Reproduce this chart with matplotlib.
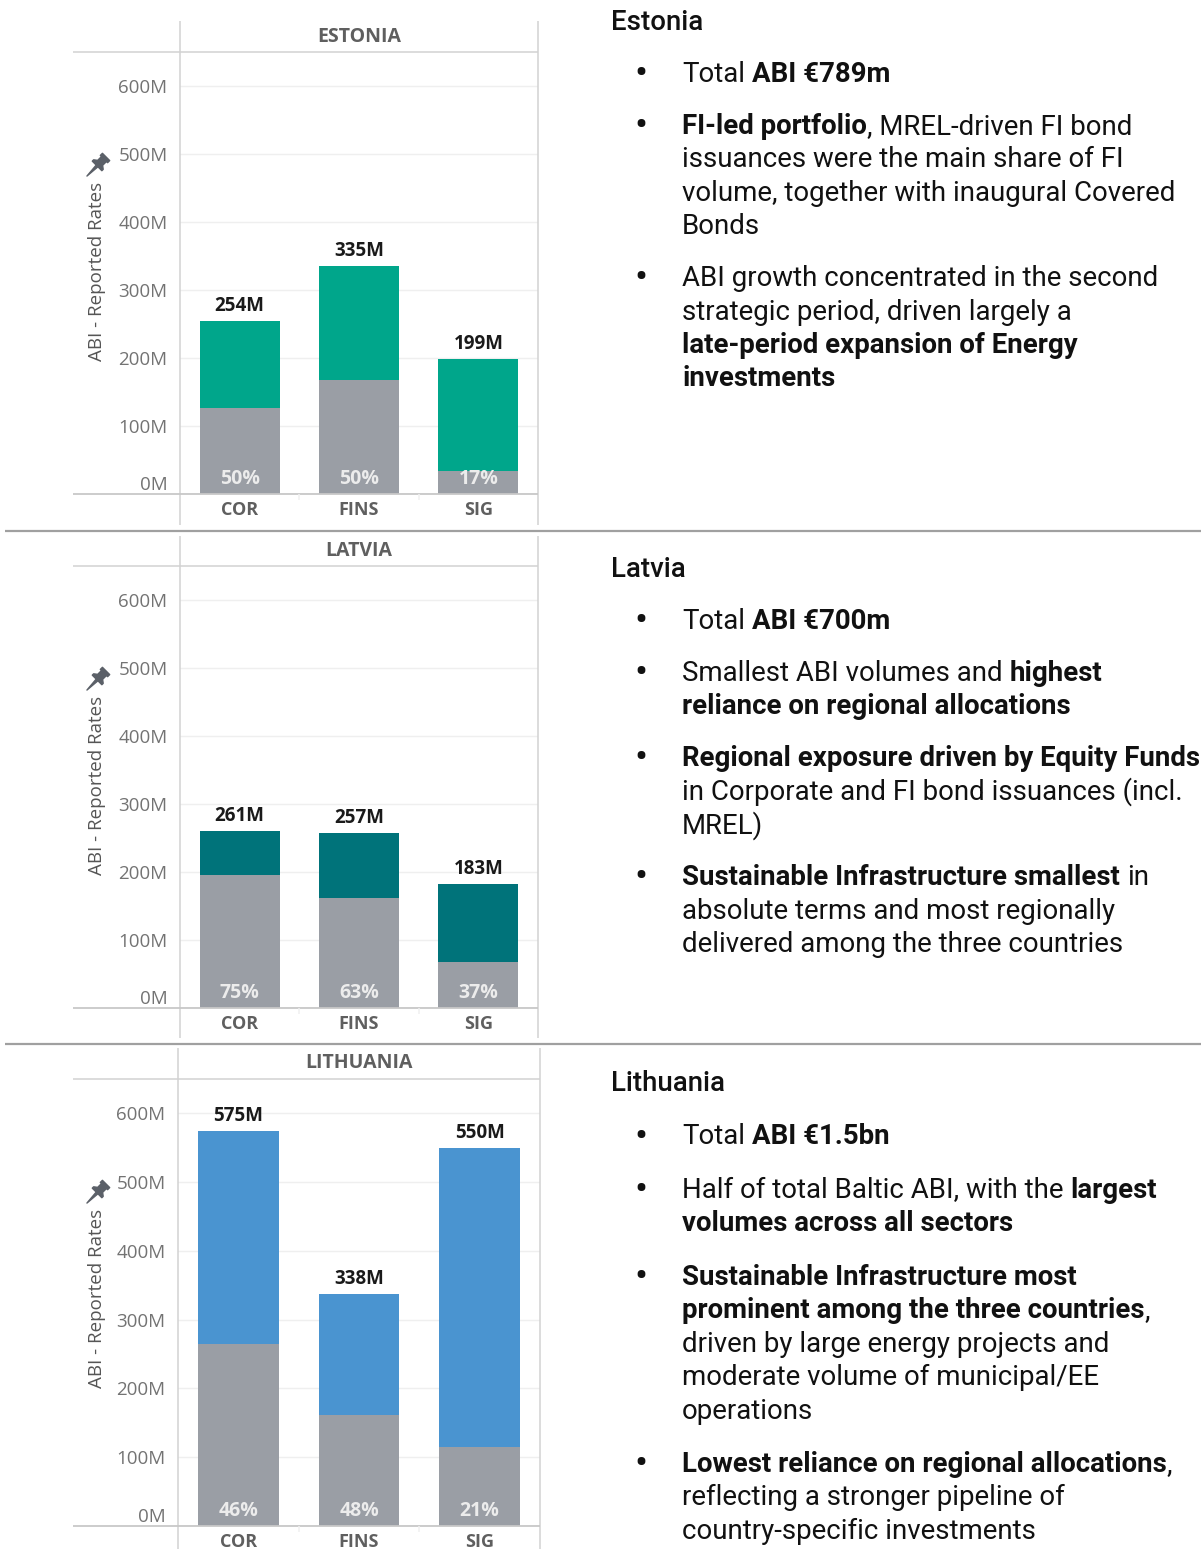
import matplotlib
matplotlib.use("Agg")
import matplotlib.pyplot as plt
import numpy as np
from matplotlib.lines import Line2D
from matplotlib.path import Path

W, H = 1201, 1549

# ---- chart data (EUR millions) ----
categories = ["COR", "FINS", "SIG"]
countries = ["ESTONIA", "LATVIA", "LITHUANIA"]

estonia_total = [254, 335, 199]
estonia_regional = [127, 167, 34]
estonia_share = [50, 50, 17]

latvia_total = [261, 257, 183]
latvia_regional = [196, 162, 68]
latvia_share = [75, 63, 37]

lithuania_total = [575, 338, 550]
lithuania_regional = [265, 162, 115]
lithuania_share = [46, 48, 21]

y_ticks = [0, 100, 200, 300, 400, 500, 600]

# ---- commentary text: lines of (text, bold) ----
estonia_title = "Estonia"
estonia_bullets = [
    [[("Total ", 0), ("ABI €789m", 1)]],
    [[("FI-led portfolio", 1), (", MREL-driven FI bond", 0)],
     [("issuances were the main share of FI", 0)],
     [("volume, together with inaugural Covered", 0)],
     [("Bonds", 0)]],
    [[("ABI growth concentrated in the second", 0)],
     [("strategic period, driven largely a", 0)],
     [("late-period expansion of Energy", 1)],
     [("investments", 1)]],
]
latvia_title = "Latvia"
latvia_bullets = [
    [[("Total ", 0), ("ABI €700m", 1)]],
    [[("Smallest ABI volumes and ", 0), ("highest", 1)],
     [("reliance on regional allocations", 1)]],
    [[("Regional exposure driven by Equity Funds", 1)],
     [("in Corporate and FI bond issuances (incl.", 0)],
     [("MREL)", 0)]],
    [[("Sustainable Infrastructure smallest", 1), (" in", 0)],
     [("absolute terms and most regionally", 0)],
     [("delivered among the three countries", 0)]],
]
lithuania_title = "Lithuania"
lithuania_bullets = [
    [[("Total ", 0), ("ABI €1.5bn", 1)]],
    [[("Half of total Baltic ABI, with the ", 0), ("largest", 1)],
     [("volumes across all sectors", 1)]],
    [[("Sustainable Infrastructure most", 1)],
     [("prominent among the three countries", 1), (",", 0)],
     [("driven by large energy projects and", 0)],
     [("moderate volume of municipal/EE", 0)],
     [("operations", 0)]],
    [[("Lowest reliance on regional allocations", 1), (",", 0)],
     [("reflecting a stronger pipeline of", 0)],
     [("country-specific investments", 0)]],
]

totals = [estonia_total, latvia_total, lithuania_total]
regional = [estonia_regional, latvia_regional, lithuania_regional]
shares = [estonia_share, latvia_share, lithuania_share]
titles = [estonia_title, latvia_title, lithuania_title]
bullets = [estonia_bullets, latvia_bullets, lithuania_bullets]

colors = ["#00a68b", "#00737a", "#4a94d0"]
gray = "#9a9ea5"
frame = "#d2d2d2"
CHART_FONT = "Open Sans"
BODY_FONT = "Roboto"
BODY = 19.9

# panel geometry in pixels
panels = [
    dict(left=180, right=538, top=21, sep=52, base=494, bottom=525, text_y=30, gap=52),
    dict(left=180, right=538, top=536, sep=566, base=1008, bottom=1038, text_y=577, gap=52),
    dict(left=178, right=540, top=1048, sep=1079, base=1526, bottom=1549, text_y=1091, gap=53.5),
]

fig = plt.figure(figsize=(W / 100, H / 100), dpi=100)
fig.patch.set_facecolor("white")
renderer = fig.canvas.get_renderer()


def fx(x):
    return x / W


def fy(y):
    return 1 - y / H


def seg(x0, y0, x1, y1, color=frame, lw=1.1):
    fig.add_artist(Line2D([fx(x0), fx(x1)], [fy(y0), fy(y1)], color=color, lw=lw,
                          transform=fig.transFigure, solid_capstyle="butt"))


# pushpin marker, needle pointing down-left
pin = np.array([(-0.38, 1.0), (0.38, 1.0), (0.38, 0.78), (0.26, 0.78), (0.26, 0.38), (0.5, 0.2),
                (0.5, 0.06), (0.09, 0.06), (0.0, -1.0), (-0.09, 0.06), (-0.5, 0.06),
                (-0.5, 0.2), (-0.26, 0.38), (-0.26, 0.78), (-0.38, 0.78), (-0.38, 1.0)])
ang = np.deg2rad(-45)
rot = np.array([[np.cos(ang), -np.sin(ang)], [np.sin(ang), np.cos(ang)]])
pin_path = Path(pin @ rot.T, closed=True)

# panel separators
seg(5, 531, 1201, 531, color="#a0a0a0", lw=1.6)
seg(5, 1044, 1201, 1044, color="#a0a0a0", lw=1.6)

for k in range(3):
    p = panels[k]
    ax = fig.add_axes([fx(p["left"]), fy(p["base"]), (p["right"] - p["left"]) / W,
                       (p["base"] - p["sep"]) / H])
    x = np.arange(len(categories))
    tot = np.array(totals[k])
    reg = np.array(regional[k])
    ax.bar(x, reg, width=0.67, color=gray, zorder=2)
    ax.bar(x, tot - reg, bottom=reg, width=0.67, color=colors[k], zorder=2)
    ax.set_xlim(-0.5, 2.5)
    ax.set_ylim(0, 650)
    for s in ax.spines.values():
        s.set_visible(False)
    ax.set_yticks(y_ticks)
    ax.set_yticklabels([f"{v}M" for v in y_ticks], fontsize=13.5, color="#737373",
                       family=CHART_FONT)
    ax.get_yticklabels()[0].set_va("bottom")
    ax.tick_params(axis="y", length=0, pad=9.0)
    ax.set_xticks(x)
    ax.set_xticklabels(categories, fontsize=13, color="#5f5f5f", family=CHART_FONT,
                       fontweight="bold")
    ax.tick_params(axis="x", length=0, pad=5)
    ax.yaxis.grid(True, color="#efefef", lw=1)
    ax.set_axisbelow(True)
    for i in range(len(categories)):
        ax.annotate(f"{tot[i]}M", (x[i], tot[i]), xytext=(0, 3.5), textcoords="offset points",
                    ha="center", va="bottom", fontsize=13.5, fontweight="bold",
                    color="#1a1a1a", family=CHART_FONT)
        ax.annotate(f"{shares[k][i]}%", (x[i], 0), xytext=(0, 10.5), textcoords="offset points",
                    ha="center", va="center", fontsize=14, color="#ececec", family=CHART_FONT,
                    fontweight="bold")

    # frame lines
    seg(p["left"], p["top"], p["left"], p["bottom"])
    seg(p["right"], p["top"], p["right"], p["bottom"])
    seg(73, p["sep"], p["right"], p["sep"])
    seg(73, p["base"], p["right"], p["base"], color="#c8c8c8", lw=1.3)
    step = (p["right"] - p["left"]) / 3
    for j in (1, 2):
        seg(p["left"] + j * step, p["base"], p["left"] + j * step, p["base"] + 6, color="#f0f0f0")

    fig.text(fx((p["left"] + p["right"]) / 2), fy((p["top"] + p["sep"]) / 2), countries[k],
             ha="center", va="center", fontsize=14, fontweight="bold", color="#5f5f5f",
             family=CHART_FONT)
    fig.text(fx(97), fy(p["sep"] + 219), "ABI - Reported Rates", rotation=90, ha="center",
             va="center", fontsize=13.5, color="#555555", family=CHART_FONT)
    fig.add_artist(Line2D([fx(96)], [fy(p["sep"] + 114)], marker=pin_path, markersize=19,
                          color="#5b6068", lw=0, transform=fig.transFigure))


# ---- rich text on the right ----
_cache = {}


def width(s, wt):
    key = (s, wt)
    if key not in _cache:
        t = fig.text(0, 0, s, fontsize=BODY, fontweight=wt, family=BODY_FONT)
        _cache[key] = t.get_window_extent(renderer).width
        t.remove()
    return _cache[key]


def advance(s, wt):
    return width("a" + s + "|", wt) - width("a|", wt)


def rich_line(x, y, parts):
    for s, b in parts:
        wt = "bold" if b else "normal"
        core = s.strip()
        sp = advance(" ", wt)
        x += (len(s) - len(s.lstrip())) * sp
        fig.text(fx(x), fy(y), core, fontsize=BODY, fontweight=wt, family=BODY_FONT,
                 color="#111111", ha="left", va="baseline")
        x += advance(core, wt)
        x += (len(s) - len(s.rstrip())) * sp


line_h = 33.4
for k in range(3):
    p = panels[k]
    y = p["text_y"]
    fig.text(fx(611), fy(y), titles[k], fontsize=BODY, fontweight="medium", family=BODY_FONT,
             color="#111111", ha="left", va="baseline")
    for b in bullets[k]:
        y += p["gap"]
        fig.text(fx(641), fy(y + 3), "•", fontsize=28, family=BODY_FONT, color="#111111",
                 ha="center", va="baseline")
        for n, line in enumerate(b):
            if n:
                y += line_h
            rich_line(682, y, line)

fig.savefig("out.png", dpi=100, facecolor="white")
